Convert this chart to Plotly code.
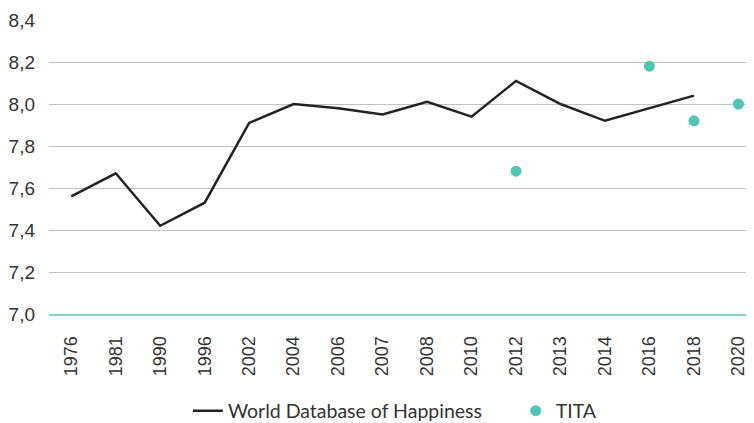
import plotly.graph_objects as go

years = ["1976", "1981", "1990", "1996", "2002", "2004", "2006", "2007",
         "2008", "2010", "2012", "2013", "2014", "2016", "2018", "2020"]
wdh = [7.56, 7.67, 7.42, 7.53, 7.91, 8.00, 7.98, 7.95,
       8.01, 7.94, 8.11, 8.00, 7.92, 7.98, 8.04, None]
tita = [None, None, None, None, None, None, None, None,
        None, None, 7.68, None, None, 8.18, 7.92, 8.00]
y_ticks = [7.0, 7.2, 7.4, 7.6, 7.8, 8.0, 8.2, 8.4]
y_labels = ["7,0", "7,2", "7,4", "7,6", "7,8", "8,0", "8,2", "8,4"]

fig = go.Figure()
fig.add_trace(go.Scatter(
    x=years, y=wdh, mode="lines", name="World Database of Happiness",
    line=dict(color="#222222", width=2.5), connectgaps=False, legend="legend"))
fig.add_trace(go.Scatter(
    x=years, y=tita, mode="markers", name="TITA",
    marker=dict(color="#4fc6b5", size=11), legend="legend2"))

legend_font = dict(family="Lato", size=19.5, color="#333333")

fig.update_layout(
    width=746, height=415,
    margin=dict(l=41, r=0, t=11.5, b=108.5, autoexpand=False),
    paper_bgcolor="white", plot_bgcolor="white",
    showlegend=True,
    legend=dict(orientation="h", x=0.197, xanchor="left", y=-0.33, yanchor="middle",
                font=legend_font, bgcolor="rgba(0,0,0,0)"),
    legend2=dict(orientation="h", x=0.662, xanchor="left", y=-0.33, yanchor="middle",
                 font=legend_font, bgcolor="rgba(0,0,0,0)"),
    xaxis=dict(type="category", categoryorder="array", categoryarray=years,
               range=[-0.5, 15.35], tickangle=-90, showgrid=False,
               showline=True, linecolor="#7fd6c8", linewidth=2,
               ticks="", ticklabelstandoff=13, automargin=False,
               tickfont=dict(family="Liberation Sans", size=18, color="#333333")),
    yaxis=dict(range=[7.0, 8.4], tickvals=y_ticks, ticktext=y_labels,
               showgrid=True, gridcolor="#c2c2c2", gridwidth=1.3,
               zeroline=False, showline=False, ticks="", ticklabelstandoff=13,
               automargin=False,
               tickfont=dict(family="Liberation Sans", size=19, color="#333333")),
)

fig.write_html("out.html")
